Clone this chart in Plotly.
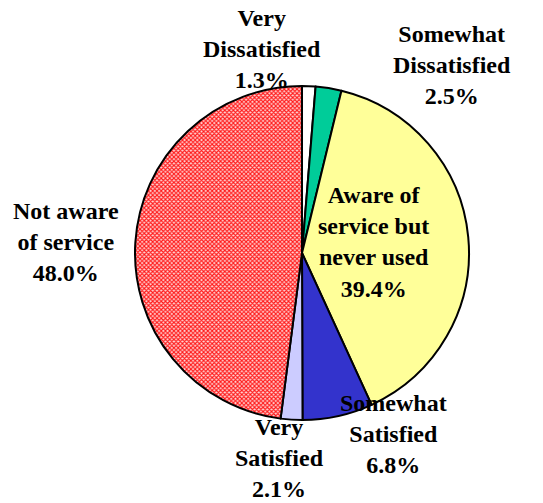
import plotly.graph_objects as go

# Survey responses about the service
categories = [
    "Very<br>Dissatisfied",
    "Somewhat<br>Dissatisfied",
    "Aware of<br>service but<br>never used",
    "Somewhat<br>Satisfied",
    "Very<br>Satisfied",
    "Not aware<br>of service",
]
shares = [1.3, 2.5, 39.4, 6.8, 2.1, 48.0]
colors = ["#FFFFFF", "#00CC99", "#FFFF99", "#3333CC", "#CCCCFF", "#FFD0D0"]
patterns = ["", "", "", "", "", "x"]

# label anchor points (pixel centres) for each slice caption
label_px = [(262, 49), (452, 65), (373, 242), (393, 434), (279, 458), (66, 242)]

W, H = 543, 503
SERIF = "Liberation Serif, Times New Roman, serif"

fig = go.Figure(
    go.Pie(
        labels=categories,
        values=shares,
        sort=False,
        direction="clockwise",
        rotation=0,
        textinfo="none",
        hoverinfo="label+value",
        marker=dict(
            colors=colors,
            line=dict(color="black", width=2),
            pattern=dict(
                shape=patterns,
                fgcolor="#FF1A1A",
                bgcolor="#FFD6D6",
                size=3,
                solidity=0.6,
            ),
        ),
        domain=dict(x=[135 / W, 469 / W], y=[(H - 420) / H, (H - 86) / H]),
        showlegend=False,
    )
)

for cat, val, (px, py) in zip(categories, shares, label_px):
    fig.add_annotation(
        x=px / W,
        y=1 - py / H,
        xref="paper",
        yref="paper",
        xanchor="center",
        yanchor="middle",
        text=f"<b>{cat}<br>{val:.1f}%</b>",
        showarrow=False,
        align="center",
        font=dict(family=SERIF, size=24, color="black"),
    )

fig.update_layout(
    width=W,
    height=H,
    margin=dict(l=0, r=0, t=0, b=0),
    paper_bgcolor="white",
    plot_bgcolor="white",
    font=dict(family=SERIF),
)

fig.write_html("out.html")
